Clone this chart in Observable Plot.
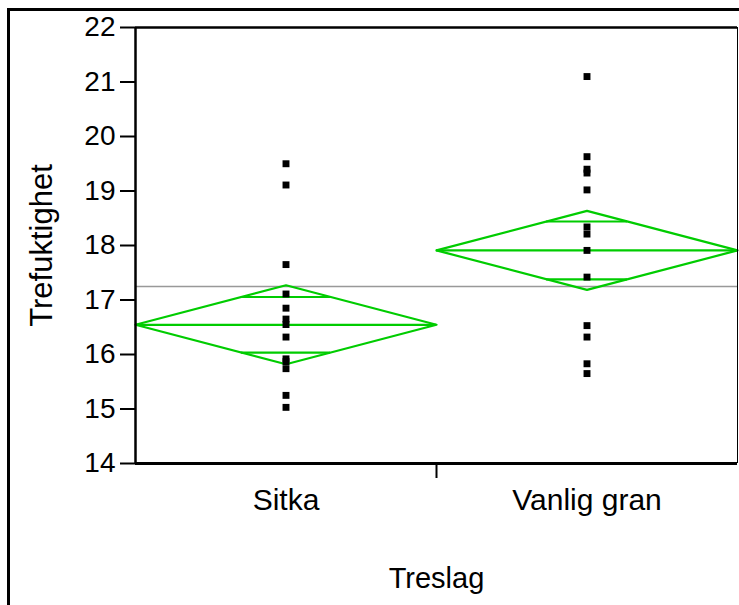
<!DOCTYPE html>
<html>
<head>
<meta charset="utf-8">
<script src="https://cdn.jsdelivr.net/npm/d3@7"></script>
<script src="https://cdn.jsdelivr.net/npm/@observablehq/plot@0.6"></script>
<style>
  html, body { margin: 0; padding: 0; background: #fff; }
  #wrap { position: relative; width: 739px; height: 605px; overflow: hidden; }
  #frame { position: absolute; left: 7px; top: 8px; width: 800px; height: 700px;
           border-left: 3px solid #000; border-top: 3px solid #000; pointer-events: none; }
  #chart { position: absolute; left: 0; top: 0; }
</style>
</head>
<body>
<div id="wrap"><div id="chart"></div><div id="frame"></div></div>
<script>
const categories = ["Sitka", "Vanlig gran"];
const sitkaValues = [19.50, 19.11, 17.65, 17.11, 16.85, 16.65, 16.55, 16.32, 15.92, 15.87, 15.74, 15.25, 15.03];
const granValues = [21.10, 19.63, 19.40, 19.33, 19.02, 18.34, 18.21, 17.91, 17.42, 16.53, 16.32, 15.83, 15.65];
const groupMeans = [16.545, 17.91];
const ciHalfWidths = [0.725, 0.725];
const overlapHalfWidths = [0.51, 0.53];
const grandMean = 17.25;
const yTicks = [14, 15, 16, 17, 18, 19, 20, 21, 22];

const green = "#00cc00";
const font = "'Liberation Sans', Arial, sans-serif";

const points = [
  ...sitkaValues.map(v => ({x: 0.5, y: v})),
  ...granValues.map(v => ({x: 1.5, y: v}))
];

const diamonds = [];
categories.forEach((c, i) => {
  const m = groupMeans[i], h = ciHalfWidths[i];
  [[i, m], [i + 0.5, m + h], [i + 1, m], [i + 0.5, m - h], [i, m]]
    .forEach(([x, y]) => diamonds.push({g: c, x, y}));
});

const meanRules = categories.map((c, i) => ({y: groupMeans[i], x1: i, x2: i + 1}));

const overlapRules = [];
categories.forEach((c, i) => {
  const m = groupMeans[i], h = ciHalfWidths[i], o = overlapHalfWidths[i];
  const half = 0.5 * (1 - o / h);
  [m + o, m - o].forEach(y => overlapRules.push({y, x1: i + 0.5 - half, x2: i + 0.5 + half}));
});

const chart = Plot.plot({
  width: 739,
  height: 605,
  marginLeft: 135,
  marginRight: 2,
  marginTop: 27,
  marginBottom: 142,
  style: {fontFamily: font, background: "transparent", color: "#000"},
  x: {type: "linear", domain: [0, 2], axis: null},
  y: {domain: [14, 22], axis: null},
  marks: [
    Plot.axisY({ticks: yTicks, tickSize: 15, tickPadding: 5, strokeWidth: 2, fontSize: 28, label: null}),
    Plot.axisX({ticks: [0.5, 1.5], tickSize: 0, tickPadding: 25, fontSize: 30, label: null,
                tickFormat: d => categories[Math.floor(d)]}),
    Plot.axisX({ticks: [1], tickSize: 15, strokeWidth: 2, label: null, tickFormat: () => ""}),
    Plot.ruleY([grandMean], {x1: 0, x2: 2, stroke: "#999", strokeWidth: 1.5}),
    Plot.line(diamonds, {x: "x", y: "y", z: "g", stroke: green, strokeWidth: 2.2}),
    Plot.ruleY(meanRules, {y: "y", x1: "x1", x2: "x2", stroke: green, strokeWidth: 2.2}),
    Plot.ruleY(overlapRules, {y: "y", x1: "x1", x2: "x2", stroke: green, strokeWidth: 2.2}),
    Plot.dot(points, {x: "x", y: "y", symbol: "square", r: 3.9, fill: "#000", stroke: null}),
    Plot.ruleX([0], {stroke: "#000", strokeWidth: 2.5}),
    Plot.ruleX([2], {stroke: "#000", strokeWidth: 1}),
    Plot.ruleY([22], {stroke: "#000", strokeWidth: 2.5}),
    Plot.ruleY([14], {stroke: "#000", strokeWidth: 3}),
    Plot.text(["Trefuktighet"], {frameAnchor: "left", rotate: -90, dx: -93, textAnchor: "middle", lineAnchor: "middle", fontSize: 31, fill: "#000"}),
    Plot.text(["Treslag"], {frameAnchor: "bottom", dy: 115, textAnchor: "middle", lineAnchor: "middle", fontSize: 29, fill: "#000"})
  ]
});
document.getElementById("chart").appendChild(chart);
</script>
</body>
</html>
